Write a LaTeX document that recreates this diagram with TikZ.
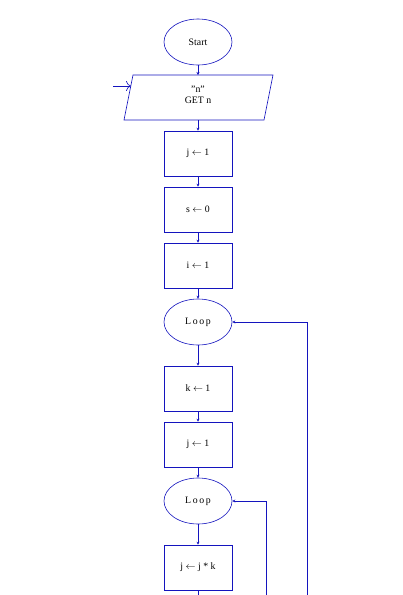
\documentclass[tikz,border=0pt]{standalone}
\usepackage{fontspec}
\setmainfont{Liberation Serif}
\usetikzlibrary{arrows.meta,shapes.geometric}
\definecolor{fc}{RGB}{20,20,190}
\begin{document}
\begin{tikzpicture}[x=1pt,y=-1pt,
  every node/.style={font=\fontsize{9.8}{11}\selectfont,text=black},
  ell/.style={ellipse,draw=fc,semithick,minimum width=68pt,minimum height=46pt,inner sep=0pt},
  box/.style={rectangle,draw=fc,semithick,minimum width=68pt,minimum height=45pt,inner sep=0pt},
  conn/.style={draw=fc,semithick,-{Stealth[length=3pt,width=3pt]}},
  line/.style={draw=fc,semithick}]
\useasboundingbox (0,0) rectangle (403,595);
\node[ell] (start) at (198,42) {Start};
% parallelogram
\coordinate (p1) at (133,75);
\coordinate (p2) at (273,75);
\coordinate (p3) at (264,120);
\coordinate (p4) at (124,120);
\draw[line] (p1) -- (p2) -- (p3) -- (p4) -- cycle;
\node[align=center] (get) at (198,95) {"n"\\GET n};
\coordinate (gettop) at (198,75);
\coordinate (getbot) at (198,120);
\coordinate (entry) at (113,86);
\coordinate (entryend) at (131,86);
\draw[draw=fc,semithick,-{To[length=5pt,width=10pt]}] (entry) -- (entryend);
\node[box] (b1) at (198,153.5) {j $\leftarrow$ 1};
\node[box] (b2) at (198,209.5) {s $\leftarrow$ 0};
\node[box] (b3) at (198,265.5) {i $\leftarrow$ 1};
\node[ell] (loop1) at (198,322) {L\,o\,o\,p};
\node[box] (b4) at (198,388.5) {k $\leftarrow$ 1};
\node[box] (b5) at (198,444.5) {j $\leftarrow$ 1};
\node[ell] (loop2) at (198,501) {L\,o\,o\,p};
\node[box] (b6) at (198,567.5) {j $\leftarrow$ j * k};
\coordinate (bot0) at (198,600);
\coordinate (r1b) at (307,600);
\coordinate (r2b) at (266,600);
\draw[conn] (start) -- (gettop);
\draw[conn] (getbot) -- (b1);
\draw[conn] (b1) -- (b2);
\draw[conn] (b2) -- (b3);
\draw[conn] (b3) -- (loop1);
\draw[conn] (loop1) -- (b4);
\draw[conn] (b4) -- (b5);
\draw[conn] (b5) -- (loop2);
\draw[conn] (loop2) -- (b6);
\draw[line] (b6) -- (bot0);
\draw[conn] (r1b) |- (loop1.east);
\draw[conn] (r2b) |- (loop2.east);
\end{tikzpicture}
\end{document}
